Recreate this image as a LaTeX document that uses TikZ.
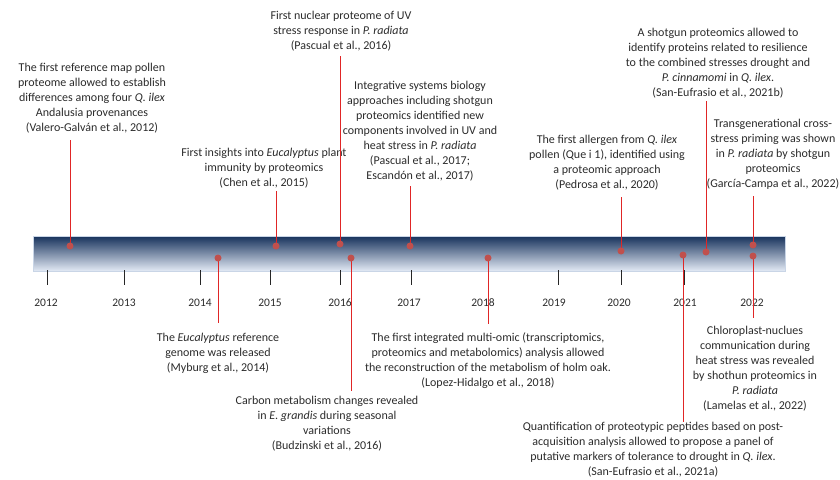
\documentclass[tikz,border=0pt]{standalone}
\usepackage{fontspec}
\setmainfont{Carlito}
\definecolor{barTop}{HTML}{17325C}
\definecolor{barBot}{HTML}{E3EAF5}
\definecolor{barEdge}{HTML}{C9D5E6}
\definecolor{linered}{HTML}{E02626}
\definecolor{dotred}{HTML}{C0504D}
\definecolor{txtgray}{HTML}{2B2B2B}
\begin{document}
\begin{tikzpicture}[x=1pt,y=-1pt,
  txt/.style={font=\fontsize{12}{15}\selectfont, text=txtgray, align=center, inner xsep=0pt},
  uptext/.style={txt, anchor=south, inner ysep=#1, text depth=3pt},
  downtext/.style={txt, anchor=north, inner ysep=#1},
  yr/.style={font=\fontsize{11.5}{14}\selectfont, text=txtgray, inner sep=0pt},
  conn/.style={draw=linered, line width=1pt},
  evdot/.style={circle, fill=dotred, inner sep=0pt, minimum size=7pt},
  tickline/.style={draw=black!85, line width=0.9pt}]
\useasboundingbox (0,0) rectangle (840,479);
% timeline bar
\shade[top color=barTop, bottom color=barBot, draw=barEdge, line width=0.5pt] (33,236) rectangle (785,271);
% ticks
\foreach \x in {47,124,200,270,340,411,558,621,684,753}
  \draw[tickline] (\x,270) -- (\x,285);
% years
\node[yr] (y2012) at (46,303) {2012};
\node[yr] (y2013) at (124,303) {2013};
\node[yr] (y2014) at (200,303) {2014};
\node[yr] (y2015) at (270,303) {2015};
\node[yr] (y2016) at (340,303) {2016};
\node[yr] (y2017) at (409,303) {2017};
\node[yr] (y2018) at (483,303) {2018};
\node[yr] (y2019) at (554,303) {2019};
\node[yr] (y2020) at (619,303) {2020};
\node[yr] (y2021) at (685,303) {2021};
\node[yr] (y2022) at (752,303) {2022};
% upper texts
\node[uptext=5] (tA) at (92,140) {The first reference map pollen\\proteome  allowed to establish\\differences among four \textit{Q. ilex}\\Andalusia provenances\\(Valero-Galván et al., 2012)};
\node[uptext=1] (tB) at (264,191) {First insights into \textit{Eucalyptus} plant\\immunity by proteomics\\(Chen et al., 2015)};
\node[uptext=3] (tC) at (341,56) {First nuclear proteome of UV\\stress response in \textit{P. radiata}\\(Pascual et al., 2016)};
\node[uptext=3] (tD) at (420,186) {Integrative systems biology\\approaches including shotgun\\proteomics identified new\\components  involved in UV and\\heat stress in \textit{P. radiata}\\(Pascual et al., 2017;\\Escandón et al., 2017)};
\node[uptext=5] (tE) at (607,197) {The first allergen from \textit{Q. ilex}\\pollen (Que i 1), identified using\\a proteomic approach\\(Pedrosa et al., 2020)};
\node[uptext=1] (tF) at (718,101) {A shotgun proteomics allowed to\\identify proteins related to resilience\\to the  combined stresses drought and\\\textit{P. cinnamomi}  in \textit{Q. ilex}.\\(San-Eufrasio et al., 2021b)};
\node[uptext=5] (tG) at (773,196) {Transgenerational cross-\\stress priming was shown\\in \textit{P. radiata} by shotgun\\proteomics\\(García-Campa et al., 2022)};
% lower texts
\node[downtext=10] (tH) at (218,323) {The \textit{Eucalyptus} reference\\genome  was  released\\(Myburg et al., 2014)};
\node[downtext=5] (tI) at (327,391) {Carbon metabolism changes revealed\\in \textit{E. grandis} during seasonal\\variations\\(Budzinski et al., 2016)};
\node[downtext=9] (tJ) at (488,324) {The first integrated multi-omic (transcriptomics,\\proteomics and metabolomics) analysis allowed\\the  reconstruction of the  metabolism of holm oak.\\(Lopez-Hidalgo et al., 2018)};
\node[downtext=0] (tK) at (653,422) {Quantification of proteotypic peptides based on post-\\acquisition analysis  allowed to propose a panel of\\putative markers of tolerance to drought  in \textit{Q. ilex}.\\(San-Eufrasio et al., 2021a)};
\node[downtext=8] (tL) at (755,318) {Chloroplast-nuclues\\communication during\\heat stress was revealed\\by shothun proteomics in\\\textit{P. radiata}\\(Lamelas et al., 2022)};
% event positions
\coordinate (p1) at (70,246);
\coordinate (p2) at (276,246);
\coordinate (p3) at (340,244);
\coordinate (p4) at (410,246);
\coordinate (p5) at (621,251);
\coordinate (p6) at (706,252);
\coordinate (p7) at (753,245);
\coordinate (p8) at (218,258);
\coordinate (p9) at (351,258);
\coordinate (p10) at (488,258);
\coordinate (p11) at (683,255);
\coordinate (p12) at (753,256);
% connectors
\draw[conn] (p1) -- (p1 |- tA.south);
\draw[conn] (p2) -- (p2 |- tB.south);
\draw[conn] (p3) -- (p3 |- tC.south);
\draw[conn] (p4) -- (p4 |- tD.south);
\draw[conn] (p5) -- (p5 |- tE.south);
\draw[conn] (p6) -- (p6 |- tF.south);
\draw[conn] (p7) -- (p7 |- tG.south);
\draw[conn] (p8) -- (p8 |- tH.north);
\draw[conn] (p9) -- (p9 |- tI.north);
\draw[conn] (p10) -- (p10 |- tJ.north);
\draw[conn] (p11) -- (p11 |- tK.north);
\draw[conn] (p12) -- (p12 |- tL.north);
% dots
\foreach \i in {1,...,12}
  \node[evdot] (d\i) at (p\i) {};
\end{tikzpicture}
\end{document}
